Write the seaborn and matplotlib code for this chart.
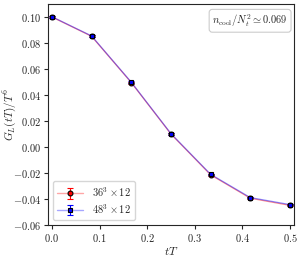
import numpy as np
import pandas as pd
import matplotlib
matplotlib.use('Agg')
import matplotlib.pyplot as plt
import seaborn as sns
from matplotlib.lines import Line2D
from matplotlib.legend_handler import HandlerTuple

# flow time in units of 1/T
tT = [0.0, 1/12, 2/12, 3/12, 4/12, 5/12, 6/12]

# G_L(tT)/T^6 for the two lattices
g_36 = [0.1001, 0.0852, 0.0496, 0.0100, -0.0214, -0.0394, -0.0449]
err_36 = [0.0010, 0.0009, 0.0008, 0.0007, 0.0007, 0.0007, 0.0007]
g_48 = [0.1003, 0.0855, 0.0499, 0.0103, -0.0210, -0.0389, -0.0443]
err_48 = [0.0009, 0.0008, 0.0008, 0.0007, 0.0006, 0.0006, 0.0006]

labels = [r'$36^3\times 12$', r'$48^3\times 12$']
xticks = [0.0, 0.1, 0.2, 0.3, 0.4, 0.5]
yticks = [-0.06, -0.04, -0.02, 0.0, 0.02, 0.04, 0.06, 0.08, 0.10]

sns.set_style('ticks')
plt.rcParams['font.family'] = ['serif']
plt.rcParams['font.serif'] = ['cmr10', 'DejaVu Serif']
plt.rcParams['mathtext.fontset'] = 'cm'

df = pd.DataFrame({
    'tT': tT * 2,
    'G': g_36 + g_48,
    'lat': [labels[0]] * len(tT) + [labels[1]] * len(tT),
})

fig = plt.figure(figsize=(3.01, 2.56), dpi=100)
ax = fig.add_axes([0.159, 0.121, 0.818, 0.863])

sns.lineplot(data=df, x='tT', y='G', hue='lat', palette=['red', 'blue'],
             alpha=0.45, lw=0.9, legend=False, ax=ax)

e1 = ax.errorbar(tT, g_36, yerr=err_36, fmt='o', ms=3.5, mfc='red', mec='black',
                 mew=0.8, ecolor='red', capsize=2, elinewidth=0.8, zorder=3)
e2 = ax.errorbar(tT, g_48, yerr=err_48, fmt='s', ms=3.5, mfc='blue', mec='black',
                 mew=0.8, ecolor='blue', capsize=2, elinewidth=0.8, zorder=3)

l1 = Line2D([], [], color='red', alpha=0.35, lw=1)
l2 = Line2D([], [], color='blue', alpha=0.35, lw=1)
leg = ax.legend([(l1, e1), (l2, e2)], labels, loc='lower left', fontsize=7.5,
                frameon=True, handlelength=2.5, borderpad=0.4, labelspacing=0.3,
                handler_map={tuple: HandlerTuple(ndivide=1)})
leg.get_frame().set_edgecolor('#cccccc')

ax.text(0.975, 0.962, r'$n_{\rm cool}/N_t^2 \simeq 0.069$', transform=ax.transAxes,
        ha='right', va='top', fontsize=7.5,
        bbox=dict(boxstyle='round,pad=0.3', fc='white', ec='#cccccc', lw=0.8))

ax.set_xlim(-0.0085, 0.5085)
ax.set_ylim(-0.06, 0.11)
ax.set_xticks(xticks)
ax.set_yticks(yticks)
ax.set_xticklabels([f'${v:.1f}$' for v in xticks])
ax.set_yticklabels([f'${v:.2f}$' for v in yticks])
ax.tick_params(labelsize=7.5, length=3, width=0.8, pad=2)
for s in ax.spines.values():
    s.set_linewidth(0.8)
ax.set_xlabel(r'$tT$', fontsize=8.5, labelpad=1)
ax.set_ylabel(r'$G_L(tT)/T^6$', fontsize=8)
ax.yaxis.set_label_coords(-0.122, 0.5)

fig.savefig('out.png', dpi=100)
